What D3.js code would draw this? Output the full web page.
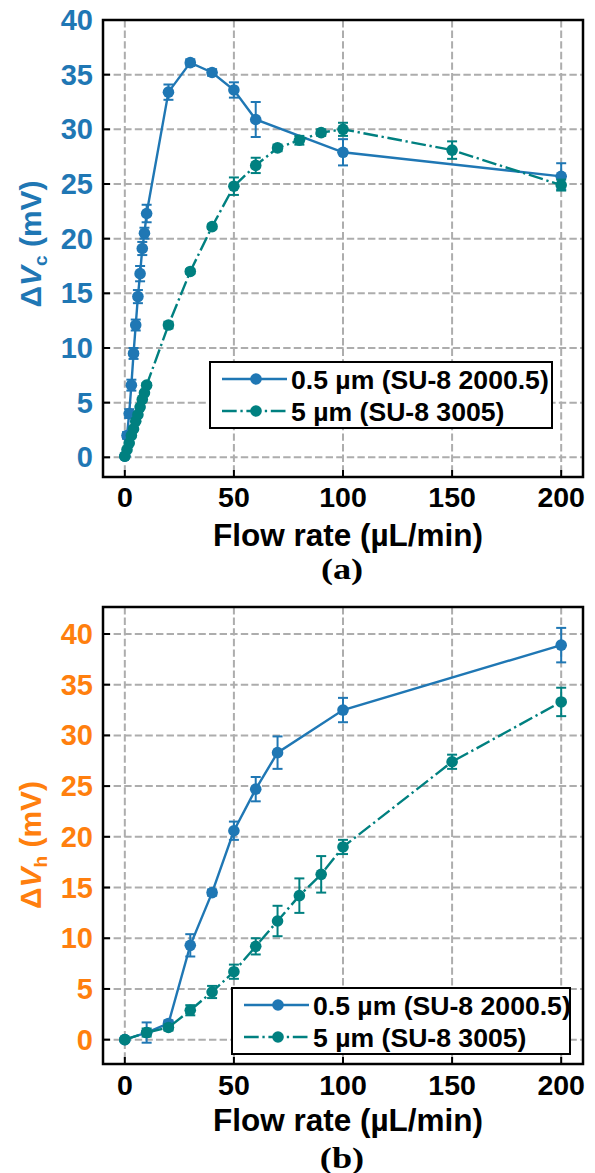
<!DOCTYPE html>
<html>
<head>
<meta charset="utf-8">
<script src="https://cdn.jsdelivr.net/npm/d3@7"></script>
<style>
  html, body { margin: 0; padding: 0; background: #fff; }
  svg { display: block; }
  text { font-weight: bold; }
</style>
</head>
<body>
<svg id="chart" width="595" height="1173"></svg>
<script>
// ---------- DATA ----------
const xTicks = [0, 50, 100, 150, 200];
const yTicks = [0, 5, 10, 15, 20, 25, 30, 35, 40];
const legendLabels = ["0.5 µm (SU-8 2000.5)", "5 µm (SU-8 3005)"];

// Panel (a): ΔVc
const flowA1 = [0, 1, 2, 3, 4, 5, 6, 7, 8, 9, 10, 20, 30, 40, 50, 60, 100, 200];
const vcA1   = [0.1, 2.0, 4.0, 6.6, 9.5, 12.1, 14.7, 16.8, 19.1, 20.5, 22.3, 33.4, 36.1, 35.2, 33.6, 30.9, 27.9, 25.7];
const errA1  = [0.2, 0.3, 0.4, 0.5, 0.5, 0.5, 0.6, 0.7, 0.6, 0.5, 0.8, 0.7, 0.3, 0.3, 0.7, 1.6, 1.2, 1.2];

const flowA2 = [0, 1, 2, 3, 4, 5, 6, 7, 8, 9, 10, 20, 30, 40, 50, 60, 70, 80, 90, 100, 150, 200];
const vcA2   = [0.1, 0.7, 1.3, 2.0, 2.6, 3.3, 3.9, 4.6, 5.3, 5.9, 6.6, 12.1, 17.0, 21.1, 24.8, 26.7, 28.3, 29.0, 29.7, 30.0, 28.1, 24.9];
const errA2  = [0.1, 0.1, 0.1, 0.1, 0.1, 0.1, 0.1, 0.1, 0.1, 0.1, 0.2, 0.3, 0.2, 0.2, 0.8, 0.7, 0.3, 0.4, 0.3, 0.6, 0.8, 0.5];

// Panel (b): ΔVh
const flowB1 = [0, 10, 20, 30, 40, 50, 60, 70, 100, 200];
const vhB1   = [0, 0.7, 1.6, 9.3, 14.5, 20.6, 24.7, 28.3, 32.5, 38.9];
const errB1  = [0.2, 1.0, 0.3, 1.1, 0.3, 0.9, 1.2, 1.6, 1.2, 1.7];

const flowB2 = [0, 10, 20, 30, 40, 50, 60, 70, 80, 90, 100, 150, 200];
const vhB2   = [0, 0.7, 1.2, 2.9, 4.7, 6.7, 9.2, 11.7, 14.2, 16.3, 19.0, 27.4, 33.3];
const errB2  = [0.1, 0.4, 0.3, 0.5, 0.6, 0.7, 0.8, 1.5, 1.7, 1.8, 0.7, 0.7, 1.4];

// ---------- STYLE ----------
const BLUE = "#1f77b4", TEAL = "#008080", ORANGE = "#ff7f0e";
const SANS = "'Liberation Sans', Arial, sans-serif";
const SERIF = "'Liberation Serif', 'Times New Roman', serif";
const svg = d3.select("#chart");

function zip(xs, ys, es) { return xs.map((x, i) => ({ x, y: ys[i], e: es[i] })); }

function drawPanel(o) {
  const x = d3.scaleLinear().domain([-10, 210]).range([103, 583]);
  const y = d3.scaleLinear().domain(o.yDomain).range([o.bottom, o.top]);
  const g = svg.append("g").style("font-family", SANS);

  // grid
  g.selectAll(".gx").data(xTicks).join("line")
    .attr("x1", d => x(d)).attr("x2", d => x(d)).attr("y1", o.top).attr("y2", o.bottom)
    .attr("stroke", "#adadad").attr("stroke-width", 2).attr("stroke-dasharray", "7.4,3.2");
  g.selectAll(".gy").data(yTicks).join("line")
    .attr("y1", d => y(d)).attr("y2", d => y(d)).attr("x1", 103).attr("x2", 583)
    .attr("stroke", "#adadad").attr("stroke-width", 2).attr("stroke-dasharray", "7.4,3.2");

  // series
  const series = [
    { data: zip(o.x1, o.y1, o.e1), color: BLUE, dash: null },
    { data: zip(o.x2, o.y2, o.e2), color: TEAL, dash: "14.7,3.7,2.3,3.7" }
  ];
  const line = d3.line().x(d => x(d.x)).y(d => y(d.y));
  series.forEach(s => {
    const sg = g.append("g");
    sg.append("path").datum(s.data).attr("d", line).attr("fill", "none")
      .attr("stroke", s.color).attr("stroke-width", 2.4)
      .attr("stroke-dasharray", s.dash);
    const eb = sg.selectAll(".eb").data(s.data).join("g").attr("stroke", s.color).attr("stroke-width", 2);
    eb.append("line").attr("x1", d => x(d.x)).attr("x2", d => x(d.x))
      .attr("y1", d => y(d.y - d.e)).attr("y2", d => y(d.y + d.e));
    eb.append("line").attr("x1", d => x(d.x) - 5).attr("x2", d => x(d.x) + 5)
      .attr("y1", d => y(d.y - d.e)).attr("y2", d => y(d.y - d.e));
    eb.append("line").attr("x1", d => x(d.x) - 5).attr("x2", d => x(d.x) + 5)
      .attr("y1", d => y(d.y + d.e)).attr("y2", d => y(d.y + d.e));
    sg.selectAll("circle").data(s.data).join("circle")
      .attr("cx", d => x(d.x)).attr("cy", d => y(d.y)).attr("r", 5.8).attr("fill", s.color);
  });

  // frame
  g.append("rect").attr("x", 103).attr("y", o.top).attr("width", 480).attr("height", o.bottom - o.top)
    .attr("fill", "none").attr("stroke", "#000").attr("stroke-width", 2.5);

  // ticks (inward)
  g.selectAll(".tx").data(xTicks).join("line")
    .attr("x1", d => x(d)).attr("x2", d => x(d)).attr("y1", o.bottom).attr("y2", o.bottom - 7)
    .attr("stroke", "#000").attr("stroke-width", 2);
  g.selectAll(".ty").data(yTicks).join("line")
    .attr("y1", d => y(d)).attr("y2", d => y(d)).attr("x1", 103).attr("x2", 110)
    .attr("stroke", "#000").attr("stroke-width", 2);

  // tick labels
  g.selectAll(".lx").data(xTicks).join("text")
    .attr("x", d => x(d)).attr("y", o.xLabelBase).attr("text-anchor", "middle")
    .attr("font-size", 28.5).attr("fill", "#000").text(d => d);
  g.selectAll(".ly").data(yTicks).join("text")
    .attr("x", 93).attr("y", d => y(d) + 10).attr("text-anchor", "end")
    .attr("font-size", 29).attr("fill", o.yColor).text(d => d);

  // axis labels
  g.append("text").attr("x", 348).attr("y", o.xTitleBase).attr("text-anchor", "middle")
    .attr("font-size", 31.5).attr("fill", "#000").text("Flow rate (µL/min)");
  const yt = g.append("text").attr("transform", `translate(41,${o.yTitleY}) rotate(-90)`)
    .attr("text-anchor", "middle").attr("font-size", 30).attr("fill", o.yColor);
  yt.append("tspan").text("Δ");
  yt.append("tspan").attr("font-style", "italic").text("V");
  yt.append("tspan").attr("font-size", 19).attr("dy", 6).text(o.sub);
  yt.append("tspan").attr("dy", -6).text(" (mV)");

  // panel letter
  g.append("text").attr("transform", `translate(342,${o.letterBase}) scale(1.25,1)`)
    .attr("text-anchor", "middle")
    .style("font-family", SERIF)
    .attr("font-size", 29).attr("fill", "#000").text(o.letter);

  // legend
  const lg = g.append("g");
  lg.append("rect").attr("x", o.leg.x).attr("y", o.leg.y).attr("width", o.leg.w).attr("height", 66)
    .attr("fill", "#fff").attr("stroke", "#000").attr("stroke-width", 2);
  series.forEach((s, i) => {
    const cy = o.leg.y + 17 + i * 32;
    lg.append("line").attr("x1", o.leg.x + 12).attr("x2", o.leg.x + 77).attr("y1", cy).attr("y2", cy)
      .attr("stroke", s.color).attr("stroke-width", 2.4).attr("stroke-dasharray", s.dash);
    lg.append("circle").attr("cx", o.leg.x + 46).attr("cy", cy).attr("r", 5.8).attr("fill", s.color);
    lg.append("text").attr("x", o.leg.x + 81).attr("y", cy + 9.5).attr("font-size", 26.6).attr("fill", "#000")
      .text(legendLabels[i]);
  });
}

drawPanel({
  top: 20, bottom: 477, yDomain: [-1.8, 40],
  x1: flowA1, y1: vcA1, e1: errA1, x2: flowA2, y2: vcA2, e2: errA2,
  yColor: BLUE, sub: "c", yTitleY: 244,
  xLabelBase: 507, xTitleBase: 546, letter: "(a)", letterBase: 579,
  leg: { x: 210, y: 362, w: 342 }
});

drawPanel({
  top: 607, bottom: 1064, yDomain: [-2.4, 42.66],
  x1: flowB1, y1: vhB1, e1: errB1, x2: flowB2, y2: vhB2, e2: errB2,
  yColor: ORANGE, sub: "h", yTitleY: 845,
  xLabelBase: 1095, xTitleBase: 1131, letter: "(b)", letterBase: 1168,
  leg: { x: 232, y: 988, w: 338 }
});
</script>
</body>
</html>
